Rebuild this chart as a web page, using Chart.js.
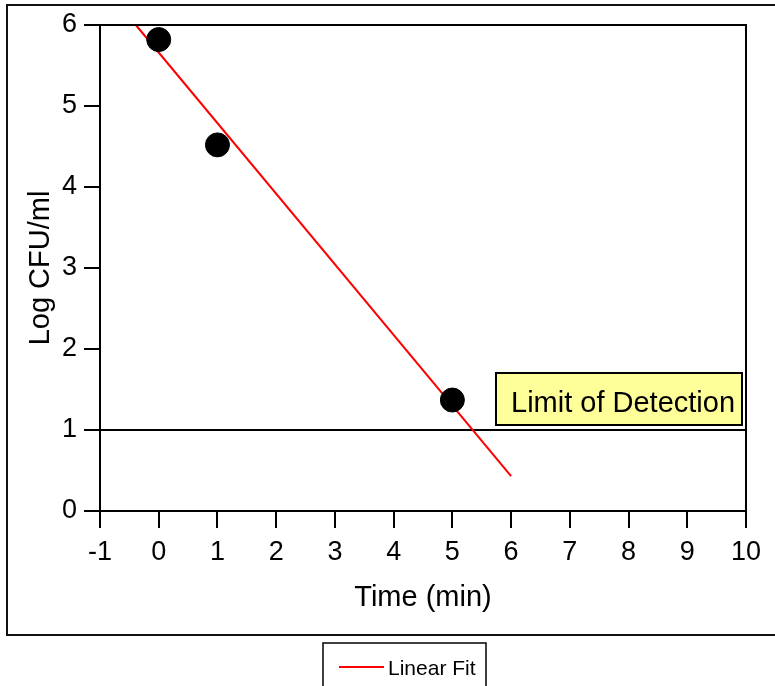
<!DOCTYPE html>
<html>
<head>
<meta charset="utf-8">
<script src="https://cdn.jsdelivr.net/npm/chart.js@4.4.1/dist/chart.umd.min.js"></script>
<style>
  html, body { margin: 0; padding: 0; background: #fff; }
  #wrap { width: 775px; height: 686px; }
</style>
</head>
<body>
<div id="wrap"><canvas id="c" width="775" height="686"></canvas></div>
<script>
// Survival counts over time
const timeMin = [0, 1, 5];
const logCfu = [5.82, 4.52, 1.37];

// Linear fit end points (clipped at the top of the axis)
const fitTime = [-0.39, 6];
const fitLog = [6.0, 0.43];

// Detection limit
const detectionLimit = 1;
const detectionLabel = 'Limit of Detection';

// Axis ranges and titles
const xRange = [-1, 10];
const yRange = [0, 6];
const xTitle = 'Time (min)';
const yTitle = 'Log CFU/ml';
const fitName = 'Linear Fit';

const FONT = '"Liberation Sans", Arial, sans-serif';

const framePlugin = {
  id: 'frame',
  beforeDraw(chart) {
    const ctx = chart.ctx;
    ctx.save();
    ctx.fillStyle = '#fff';
    ctx.fillRect(0, 0, chart.width, chart.height);
    ctx.restore();
  },
  afterDraw(chart) {
    const ctx = chart.ctx;
    const a = chart.chartArea;
    const ys = chart.scales.y;
    ctx.save();
    // plot frame top and right
    ctx.strokeStyle = '#000';
    ctx.lineWidth = 2;
    ctx.beginPath();
    ctx.moveTo(a.left, a.top);
    ctx.lineTo(a.right, a.top);
    ctx.lineTo(a.right, a.bottom + 17);
    ctx.stroke();

    // outer frame
    ctx.strokeStyle = '#111';
    ctx.lineWidth = 2;
    ctx.strokeRect(7, 5, 800, 630);

    // detection limit label box
    const yLod = ys.getPixelForValue(detectionLimit);
    const bx = 496, bw = 246, bh = 52, by = yLod - 57;
    ctx.fillStyle = '#ffff99';
    ctx.fillRect(bx, by, bw, bh);
    ctx.strokeStyle = '#000';
    ctx.lineWidth = 2;
    ctx.strokeRect(bx, by, bw, bh);
    ctx.fillStyle = '#000';
    ctx.font = '29px ' + FONT;
    ctx.textBaseline = 'alphabetic';
    ctx.textAlign = 'left';
    ctx.fillText(detectionLabel, bx + 15, by + 39);

    // legend
    ctx.strokeStyle = '#000';
    ctx.lineWidth = 1.5;
    ctx.strokeRect(323, 643, 163, 60);
    ctx.strokeStyle = '#ff0000';
    ctx.lineWidth = 2;
    ctx.beginPath();
    ctx.moveTo(339, 667);
    ctx.lineTo(384, 667);
    ctx.stroke();
    ctx.fillStyle = '#000';
    ctx.font = '21px ' + FONT;
    ctx.fillText(fitName, 388, 675);
    ctx.restore();
  }
};

new Chart(document.getElementById('c'), {
  type: 'scatter',
  data: {
    datasets: [
      {
        label: 'LOD',
        type: 'line',
        data: [{ x: xRange[0], y: detectionLimit }, { x: xRange[1], y: detectionLimit }],
        borderColor: '#000',
        borderWidth: 2,
        pointRadius: 0,
        order: 3
      },
      {
        label: fitName,
        type: 'line',
        data: fitTime.map((t, i) => ({ x: t, y: fitLog[i] })),
        borderColor: '#ff0000',
        borderWidth: 2,
        pointRadius: 0,
        order: 2
      },
      {
        label: 'Data',
        data: timeMin.map((t, i) => ({ x: t, y: logCfu[i] })),
        backgroundColor: '#000',
        borderColor: '#000',
        pointRadius: 12,
        pointHoverRadius: 12,
        order: 1
      }
    ]
  },
  plugins: [framePlugin],
  options: {
    responsive: false,
    animation: false,
    clip: false,
    events: [],
    layout: { padding: { left: 0, top: 25, right: 29, bottom: 45 } },
    plugins: { legend: { display: false }, tooltip: { enabled: false } },
    scales: {
      x: {
        type: 'linear',
        min: xRange[0], max: xRange[1],
        afterFit(s) { s.height = 130; },
        ticks: { stepSize: 1, color: '#000', font: { size: 27, family: FONT }, padding: 8, maxRotation: 0 },
        grid: { drawOnChartArea: false, drawTicks: true, tickLength: 17, color: '#000', lineWidth: 2 },
        border: { color: '#000', width: 2 },
        title: { display: true, text: xTitle, color: '#000', font: { size: 29, family: FONT }, padding: { top: 0, bottom: 26 } }
      },
      y: {
        type: 'linear',
        min: yRange[0], max: yRange[1],
        afterFit(s) { s.width = 100; },
        ticks: { stepSize: 1, color: '#000', font: { size: 27, family: FONT }, padding: 7 },
        grid: { drawOnChartArea: false, drawTicks: true, tickLength: 16, color: '#000', lineWidth: 2 },
        border: { color: '#000', width: 2 },
        title: { display: true, text: yTitle, color: '#000', font: { size: 29, family: FONT }, padding: { top: 24, bottom: 0 } }
      }
    }
  }
});
</script>
</body>
</html>
